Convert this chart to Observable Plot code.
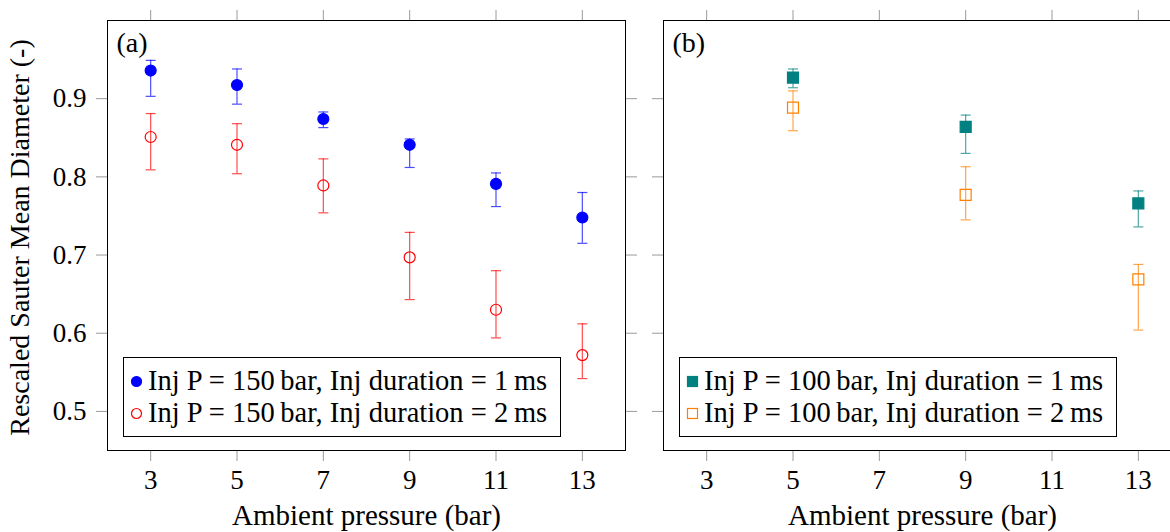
<!DOCTYPE html>
<html>
<head>
<meta charset="utf-8">
<script src="https://cdn.jsdelivr.net/npm/d3@7"></script>
<script src="https://cdn.jsdelivr.net/npm/@observablehq/plot@0.6"></script>
<style>
html, body { margin: 0; padding: 0; background: #fff; }
#wrap { position: relative; width: 1170px; height: 532px; overflow: hidden; font-family: "Liberation Serif", serif; }
#wrap > svg { position: absolute; top: 0; }
.legend { position: absolute; box-sizing: border-box; border: 1px solid #000; background: #fff; width: 438px; height: 80px; top: 357px; font-size: 28.5px; color: #000; }
.legend .row { position: absolute; left: 0; height: 32px; line-height: 32px; white-space: nowrap; }
.legend .row svg { position: absolute; left: 6px; top: 10px; }
.legend .row span { position: absolute; left: 24px; top: 0; }
</style>
</head>
<body>
<div id="wrap"></div>
<script>
// ---- data ----
const pressuresA = [3, 5, 7, 9, 11, 13];
const smdA1   = [0.936, 0.9175, 0.874, 0.841, 0.791, 0.748];
const smdA1Lo = [0.903, 0.893, 0.863, 0.812, 0.762, 0.715];
const smdA1Hi = [0.949, 0.938, 0.883, 0.8485, 0.805, 0.780];
const smdA2   = [0.851, 0.841, 0.789, 0.697, 0.630, 0.572];
const smdA2Lo = [0.809, 0.804, 0.754, 0.643, 0.594, 0.542];
const smdA2Hi = [0.881, 0.868, 0.823, 0.729, 0.680, 0.612];

const pressuresB = [5, 9, 13];
const smdB1   = [0.927, 0.864, 0.766];
const smdB1Lo = [0.914, 0.830, 0.736];
const smdB1Hi = [0.938, 0.879, 0.782];
const smdB2   = [0.8885, 0.777, 0.669];
const smdB2Lo = [0.859, 0.745, 0.604];
const smdB2Hi = [0.910, 0.813, 0.688];

const xTicks = [3, 5, 7, 9, 11, 13];
const yTicks = [0.5, 0.6, 0.7, 0.8, 0.9];
const xLabel = "Ambient pressure (bar)";
const yLabel = "Rescaled Sauter Mean Diameter (-)";
const panelLabels = ["(a)", "(b)"];
const legendA = ["Inj P = 150\u2009bar, Inj duration = 1\u2009ms", "Inj P = 150\u2009bar, Inj duration = 2\u2009ms"];
const legendB = ["Inj P = 100\u2009bar, Inj duration = 1\u2009ms", "Inj P = 100\u2009bar, Inj duration = 2\u2009ms"];

// ---- helpers ----
const rows = (xs, v, lo, hi) => xs.map((p, i) => ({p, v: v[i], lo: lo[i], hi: hi[i]}));
const cap = {draw(ctx, size) { const r = Math.sqrt(size / Math.PI); ctx.moveTo(-r, 0); ctx.lineTo(r, 0); }};
const tickColor = "#9a9a9a";
const FONT = '"Liberation Serif", serif';

function series(data, color, symbol, filled, r) {
  const eb = {stroke: color, strokeOpacity: 0.7, strokeWidth: 1.2};
  return [
    Plot.ruleX(data, {x: "p", y1: "lo", y2: "hi", ...eb}),
    Plot.dot(data, {x: "p", y: "lo", symbol: cap, r: 5, fill: "none", ...eb}),
    Plot.dot(data, {x: "p", y: "hi", symbol: cap, r: 5, fill: "none", ...eb}),
    Plot.dot(data, {x: "p", y: "v", symbol, r, fill: filled ? color : "none", stroke: color, strokeWidth: 1.2})
  ];
}

function axes(showY) {
  return [
    Plot.axisX({anchor: "bottom", ticks: xTicks, tickSize: 11, tickPadding: 8, stroke: tickColor, strokeOpacity: 1, fill: "#000", fontSize: 27, label: null, tickFormat: d => String(d)}),
    Plot.axisX({anchor: "top", ticks: xTicks, tickSize: 11, stroke: tickColor, strokeOpacity: 1, fill: "none", label: null}),
    Plot.axisY({anchor: "left", ticks: yTicks, tickSize: 11, tickPadding: 10, stroke: tickColor, strokeOpacity: 1, fill: showY ? "#000" : "none", fontSize: 27, tickFormat: d3.format(".1f"), label: null}),
    Plot.axisY({anchor: "right", ticks: yTicks, tickSize: 11, stroke: tickColor, strokeOpacity: 1, fill: "none", label: null})
  ];
}

function panel({width, marginLeft, marginRight, label, showY, marks}) {
  return Plot.plot({
    width, height: 532, marginLeft, marginRight, marginTop: 20, marginBottom: 82,
    x: {domain: [2, 14]},
    y: {domain: [0.45, 1.0]},
    style: {fontFamily: FONT, fontSize: "27px", color: "#000", background: "transparent", overflow: "visible"},
    marks: [
      ...axes(showY),
      ...marks,
      Plot.frame({stroke: "#000", strokeWidth: 1}),
      Plot.text([label], {frameAnchor: "top-left", dx: 9, dy: 23, textAnchor: "start", lineAnchor: "middle", fontSize: 28, fill: "#000"}),
      Plot.text([xLabel], {frameAnchor: "bottom", dy: 65, textAnchor: "middle", lineAnchor: "middle", fontSize: 29, fill: "#000"}),
      ...(showY ? [Plot.text([yLabel], {frameAnchor: "left", rotate: -90, dx: -87, dy: 2, textAnchor: "middle", lineAnchor: "middle", fontSize: 28, fill: "#000"})] : [])
    ]
  });
}

const wrap = document.getElementById("wrap");

const plotA = panel({
  width: 640, marginLeft: 107, marginRight: 15, label: panelLabels[0], showY: true,
  marks: [
    ...series(rows(pressuresA, smdA1, smdA1Lo, smdA1Hi), "#0000ff", "circle", true, 5.5),
    ...series(rows(pressuresA, smdA2, smdA2Lo, smdA2Hi), "#ff0000", "circle", false, 5.5)
  ]
});
plotA.style.left = "0px";
wrap.appendChild(plotA);

const plotB = panel({
  width: 556, marginLeft: 23, marginRight: 15, label: panelLabels[1], showY: false,
  marks: [
    ...series(rows(pressuresB, smdB1, smdB1Lo, smdB1Hi), "#008080", "square", true, 6.2),
    ...series(rows(pressuresB, smdB2, smdB2Lo, smdB2Hi), "#ff8000", "square", false, 6.2)
  ]
});
plotB.style.left = "640px";
wrap.appendChild(plotB);

// ---- legends ----
function symbolSvg(kind, color) {
  const ns = "http://www.w3.org/2000/svg";
  const s = document.createElementNS(ns, "svg");
  s.setAttribute("width", 13); s.setAttribute("height", 13);
  let el;
  if (kind.startsWith("circle")) {
    el = document.createElementNS(ns, "circle");
    el.setAttribute("cx", 6.5); el.setAttribute("cy", 6.5); el.setAttribute("r", 5);
  } else {
    el = document.createElementNS(ns, "rect");
    el.setAttribute("x", 1.5); el.setAttribute("y", 1.5); el.setAttribute("width", 10); el.setAttribute("height", 10);
  }
  el.setAttribute("stroke", color); el.setAttribute("stroke-width", 1.2);
  el.setAttribute("fill", kind.endsWith("fill") ? color : "none");
  s.appendChild(el);
  return s;
}
function legend(left, items) {
  const box = document.createElement("div");
  box.className = "legend";
  box.style.left = left + "px";
  items.forEach((it, i) => {
    const row = document.createElement("div");
    row.className = "row";
    row.style.top = (7 + i * 31.6) + "px";
    row.appendChild(symbolSvg(it.kind, it.color));
    const t = document.createElement("span");
    t.textContent = it.text;
    row.appendChild(t);
    box.appendChild(row);
  });
  wrap.appendChild(box);
}
legend(123, [
  {kind: "circle-fill", color: "#0000ff", text: legendA[0]},
  {kind: "circle-open", color: "#ff0000", text: legendA[1]}
]);
legend(679, [
  {kind: "square-fill", color: "#008080", text: legendB[0]},
  {kind: "square-open", color: "#ff8000", text: legendB[1]}
]);
</script>
</body>
</html>
